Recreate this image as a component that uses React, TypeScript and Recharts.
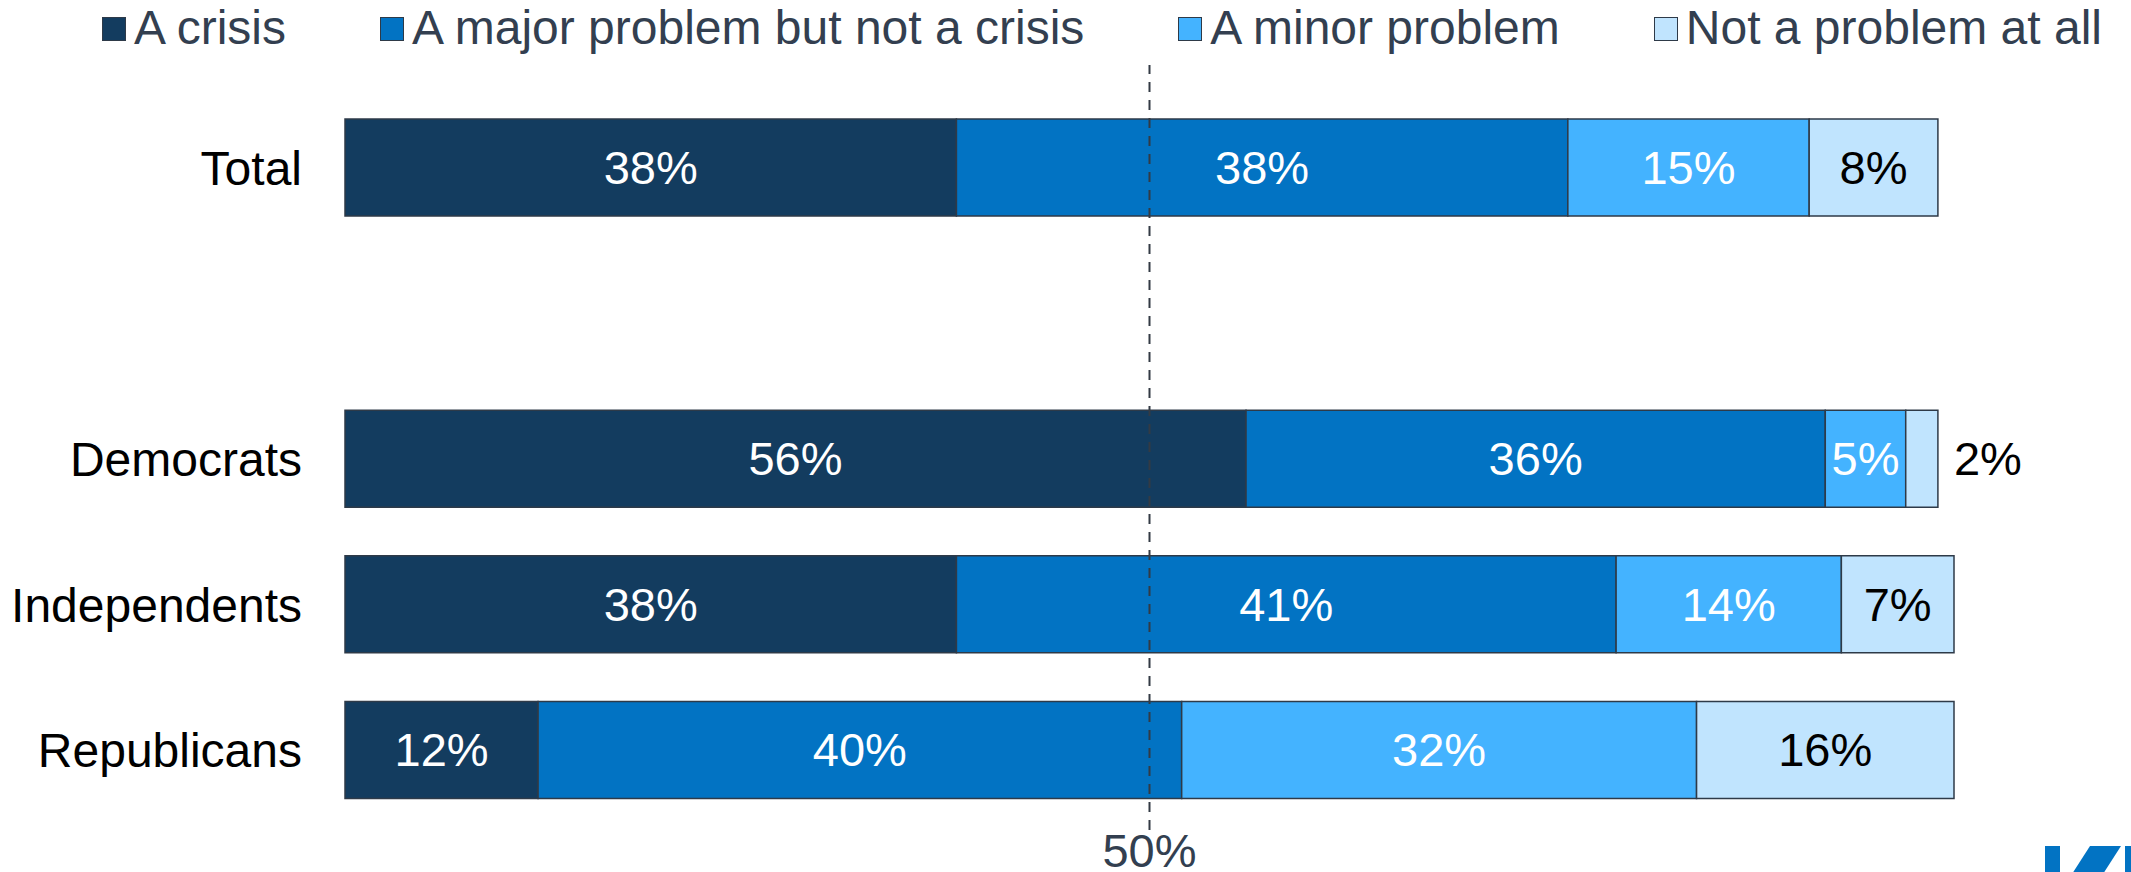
import React from "react"
import { BarChart, Bar, XAxis, YAxis, ReferenceLine, LabelList, Legend } from "recharts"

// categorias (a linha em branco separa o Total dos grupos partidários)
const categories = ["Total", "", "Democrats", "Independents", "Republicans"]
const crisis = [38, null, 56, 38, 12]
const major = [38, null, 36, 41, 40]
const minor = [15, null, 5, 14, 32]
const notProblem = [8, null, 2, 7, 16]

const SERIES = [
  { key: "crisis", name: "A crisis", color: "#133c5f", text: "#ffffff" },
  { key: "major", name: "A major problem but not a crisis", color: "#0273c3", text: "#ffffff" },
  { key: "minor", name: "A minor problem", color: "#44b3ff", text: "#ffffff" },
  { key: "notProblem", name: "Not a problem at all", color: "#c0e4fe", text: "#000000" }
]

const FONT = '"Liberation Sans", Arial, sans-serif'

const data = categories.map((name, i) => ({
  name,
  crisis: crisis[i],
  major: major[i],
  minor: minor[i],
  notProblem: notProblem[i]
}))

function LegendBox() {
  return (
    <div style={{ display: "flex", alignItems: "center", paddingLeft: 102, paddingTop: 4, fontFamily: FONT }}>
      {SERIES.map((s, i) => (
        <div key={s.key} style={{ display: "flex", alignItems: "center", marginLeft: i === 0 ? 0 : 94 }}>
          <span
            style={{
              width: 22,
              height: 22,
              marginTop: 2,
              marginRight: 8,
              background: s.color,
              border: "1.5px solid #2e3a48",
              display: "inline-block"
            }}
          />
          <span style={{ fontSize: 48, lineHeight: "48px", color: "#333f50", whiteSpace: "nowrap" }}>
            {s.name}
          </span>
        </div>
      ))}
    </div>
  )
}

// rótulo dentro do segmento; se o segmento for muito estreito, vai para fora
function makeLabel(color: string) {
  return (props: any) => {
    const { x, y, width, height, value } = props
    if (value == null) return null
    const inside = width >= 60
    return (
      <text
        x={inside ? x + width / 2 : x + width + 16}
        y={y + height / 2}
        dy="0.35em"
        textAnchor={inside ? "middle" : "start"}
        fill={inside ? color : "#000000"}
        fontSize={47}
        fontFamily={FONT}
      >
        {value}%
      </text>
    )
  }
}

export default function App() {
  return (
    <div style={{ position: "absolute", left: 0, top: 0, width: 2131, height: 872, background: "#fff" }}>
      <BarChart
        width={2131}
        height={872}
        data={data}
        layout="vertical"
        margin={{ top: 65, right: 177, bottom: 42, left: 0 }}
        barSize={97}
      >
        <XAxis type="number" domain={[0, 100]} hide />
        <YAxis
          type="category"
          dataKey="name"
          width={345}
          axisLine={false}
          tickLine={false}
          tickSize={0}
          tickMargin={43}
          padding={{ top: 30, bottom: 7 }}
          tick={{ fill: "#000000", fontSize: 48, fontFamily: FONT }}
        />
        <Legend
          verticalAlign="middle"
          align="center"
          layout="horizontal"
          wrapperStyle={{ top: 0, left: 0, width: 2131 }}
          content={() => <LegendBox />}
        />
        {SERIES.map((s) => (
          <Bar
            key={s.key}
            dataKey={s.key}
            name={s.name}
            stackId="a"
            fill={s.color}
            stroke="#2e3a48"
            strokeWidth={1.5}
            isAnimationActive={false}
          >
            <LabelList dataKey={s.key} content={makeLabel(s.text)} />
          </Bar>
        ))}
        <ReferenceLine
          x={50}
          stroke="#333a44"
          strokeWidth={2}
          strokeDasharray="10 8"
          label={{ value: "50%", position: "bottom", offset: 4, fill: "#333f50", fontSize: 47, fontFamily: FONT }}
        />
      </BarChart>
      {/* pedaço do logotipo no canto inferior direito */}
      <svg width={90} height={30} style={{ position: "absolute", left: 2041, top: 844 }}>
        <rect x={4} y={2} width={15} height={28} fill="#0273c3" />
        <polygon points="49,2 80,2 62,30 31,30" fill="#0273c3" />
        <rect x={84} y={2} width={6} height={28} fill="#0273c3" />
      </svg>
    </div>
  )
}
